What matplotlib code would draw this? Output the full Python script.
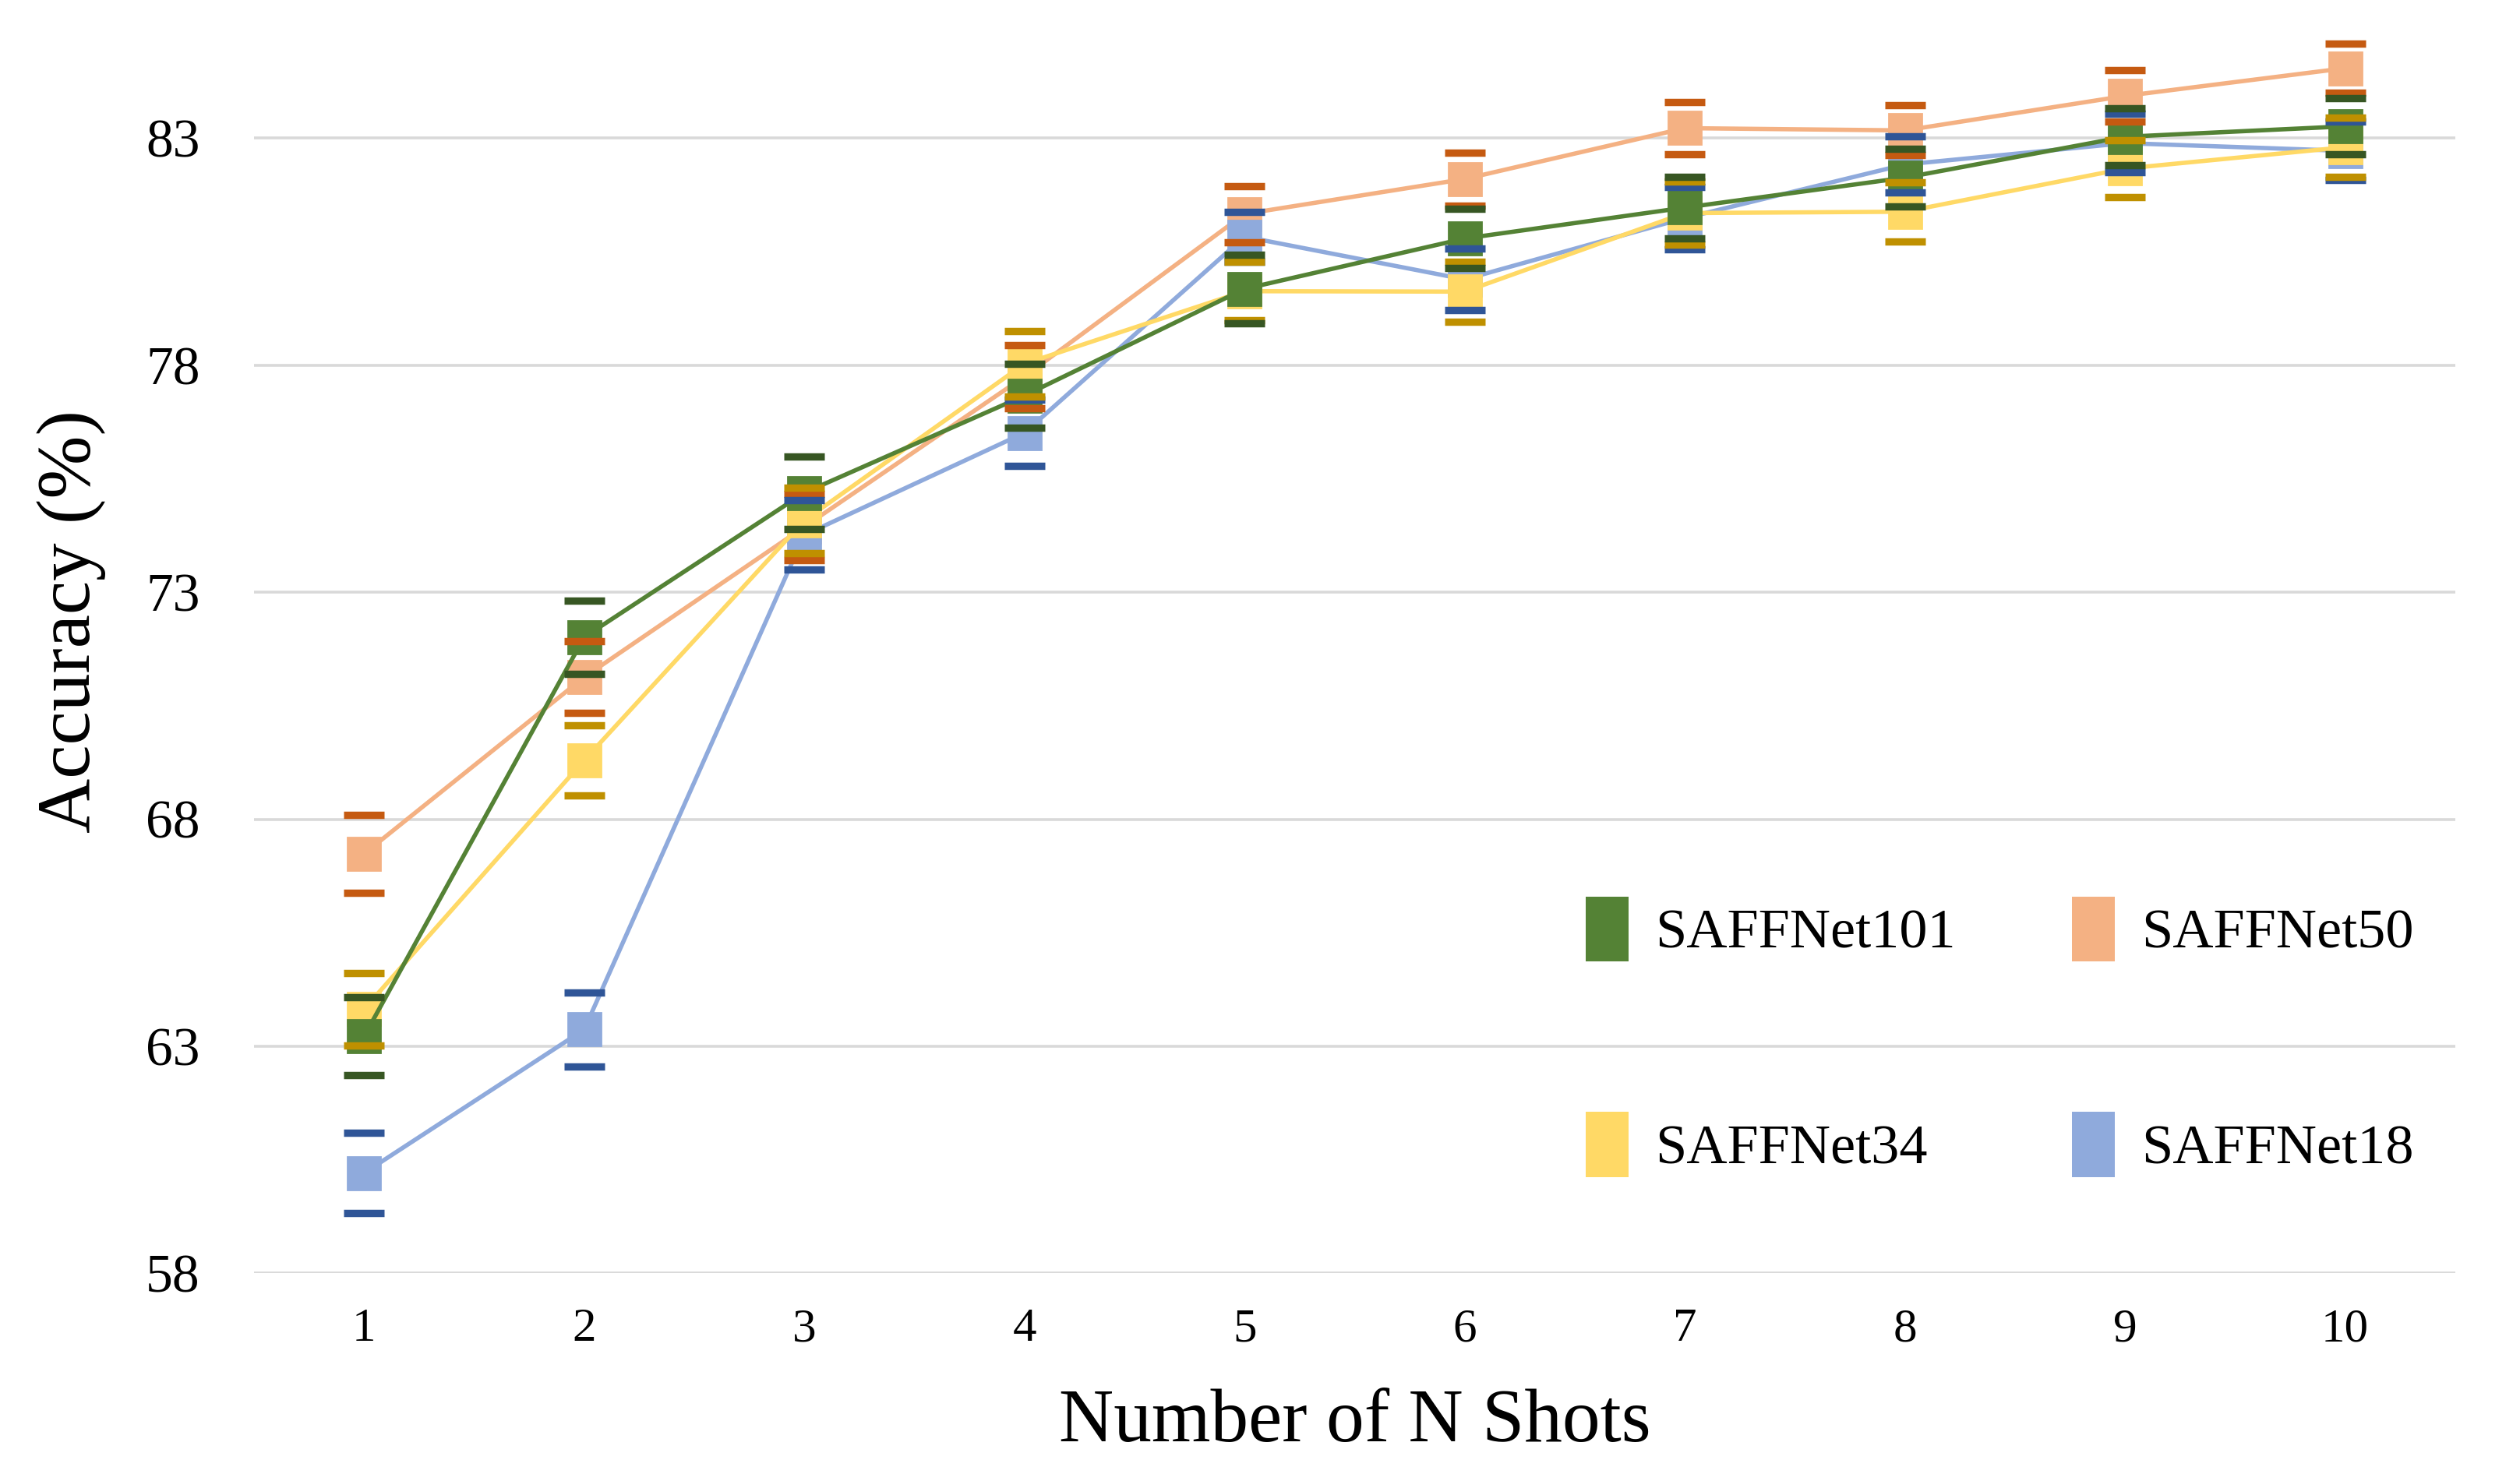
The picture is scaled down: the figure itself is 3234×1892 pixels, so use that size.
import matplotlib
matplotlib.use("Agg")
import matplotlib.pyplot as plt
from matplotlib.patches import Patch

plt.rcParams['font.family'] = ['Liberation Serif', 'DejaVu Serif']

shots = [1, 2, 3, 4, 5, 6, 7, 8, 9, 10]
x_tick_labels = ["1", "2", "3", "4", "5", "6", "7", "8", "9", "10"]
y_ticks = [58, 63, 68, 73, 78, 83]

names = ["SAFFNet50", "SAFFNet18", "SAFFNet34", "SAFFNet101"]

acc_50 = [67.24, 71.13, 74.44, 77.75, 81.33, 82.10, 83.22, 83.17, 83.93, 84.54]
err_50 = [0.86, 0.79, 0.73, 0.70, 0.62, 0.58, 0.58, 0.55, 0.57, 0.54]

acc_18 = [60.21, 63.37, 74.26, 76.51, 80.83, 79.89, 81.24, 82.42, 82.89, 82.72]
err_18 = [0.88, 0.81, 0.76, 0.73, 0.55, 0.68, 0.68, 0.62, 0.64, 0.64]

acc_34 = [63.82, 69.30, 74.58, 78.03, 79.63, 79.62, 81.35, 81.38, 82.33, 82.80]
err_34 = [0.80, 0.77, 0.72, 0.72, 0.64, 0.66, 0.69, 0.65, 0.62, 0.66]

acc_101 = [63.22, 72.01, 75.19, 77.33, 79.68, 80.79, 81.47, 82.13, 83.03, 83.26]
err_101 = [0.86, 0.81, 0.79, 0.70, 0.75, 0.65, 0.68, 0.64, 0.62, 0.62]

values = [acc_50, acc_18, acc_34, acc_101]
errors = [err_50, err_18, err_34, err_101]
line_colors = ["#F4B183", "#8FAADC", "#FFD966", "#548235"]
err_colors = ["#C55A11", "#2F5597", "#BF9000", "#375623"]

fig = plt.figure(figsize=(16.17, 9.46), dpi=200)
ax = fig.add_axes([0.1008, 0.1361, 0.8735, 0.8472])

for i, (vals, col) in enumerate(zip(values, line_colors)):
    ax.plot(shots, vals, color=col, lw=2.0, marker='s', markersize=15.2,
            markerfacecolor=col, markeredgecolor=col, zorder=3 + i)

for vals, errs, ecol in zip(values, errors, err_colors):
    ax.errorbar(shots, vals, yerr=errs, fmt='none', ecolor=ecol,
                elinewidth=0, capsize=9.5, capthick=3.4, zorder=10)

ax.set_xlim(0.5, 10.5)
ax.set_ylim(58, 85.5)
ax.set_yticks(y_ticks)
ax.set_xticks(shots)
ax.set_xticklabels(x_tick_labels)
ax.yaxis.grid(True, color="#D9D9D9", lw=1.3, zorder=0)
ax.set_axisbelow(True)
for s in ax.spines.values():
    s.set_visible(False)
ax.tick_params(axis='both', length=0)
ax.tick_params(axis='y', pad=25, labelsize=25)
ax.tick_params(axis='x', pad=16, labelsize=22)

ax.set_xlabel("Number of N Shots", fontsize=35)
ax.xaxis.set_label_coords(0.5, -0.0925)
ax.set_ylabel("Accuracy (%)", fontsize=35)
ax.yaxis.set_label_coords(-0.0673, 0.522)

legend_order = [3, 2, 0, 1]
handles = [Patch(facecolor=line_colors[i], edgecolor='none') for i in legend_order]
labels = [names[i] for i in legend_order]
leg = ax.legend(handles, labels, ncol=2, loc='upper left',
                bbox_to_anchor=(0.605, 0.3016), frameon=False, fontsize=26,
                handlelength=0.76, handleheight=1.4, handletextpad=0.48,
                labelspacing=2.67, columnspacing=2.06, borderpad=0,
                borderaxespad=0)

fig.savefig("out.png", dpi=200)
